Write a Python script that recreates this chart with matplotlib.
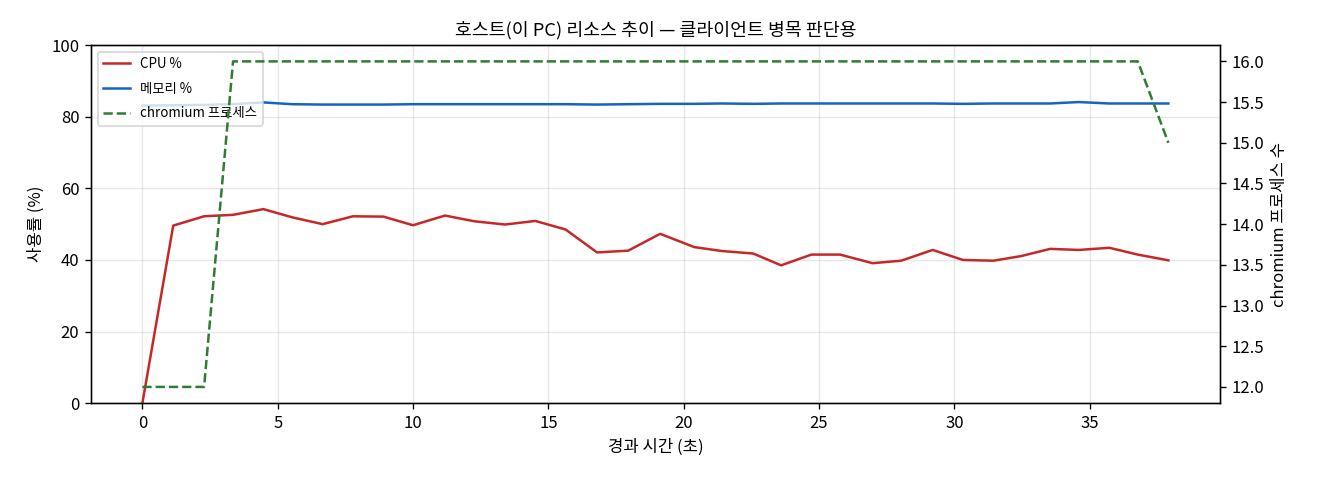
import matplotlib
matplotlib.use("Agg")
import matplotlib.pyplot as plt

plt.rcParams['font.family'] = ['Noto Sans CJK KR', 'DejaVu Sans']
plt.rcParams['axes.unicode_minus'] = False

# 경과 시간 (초)
elapsed = [0.0, 1.14, 2.28, 3.35, 4.47, 5.54, 6.66, 7.78, 8.91, 10.0,
           11.18, 12.27, 13.4, 14.52, 15.64, 16.8, 17.95, 19.13, 20.39, 21.41,
           22.57, 23.6, 24.72, 25.78, 26.98, 28.04, 29.2, 30.32, 31.45, 32.48,
           33.54, 34.6, 35.73, 36.78, 37.91]

cpu = [0.0, 49.6, 52.2, 52.6, 54.2, 51.9, 50.0, 52.2, 52.1, 49.7,
       52.4, 50.8, 49.9, 50.9, 48.5, 42.1, 42.6, 47.3, 43.6, 42.5,
       41.8, 38.5, 41.5, 41.5, 39.1, 39.8, 42.8, 40.0, 39.8, 41.1,
       43.1, 42.8, 43.4, 41.5, 39.9]

mem = [83.1, 83.2, 83.3, 83.5, 84.0, 83.5, 83.4, 83.4, 83.4, 83.5,
       83.5, 83.5, 83.5, 83.5, 83.5, 83.4, 83.5, 83.6, 83.6, 83.7,
       83.6, 83.7, 83.7, 83.7, 83.7, 83.7, 83.7, 83.6, 83.7, 83.7,
       83.7, 84.1, 83.7, 83.7, 83.7]

chromium = [12, 12, 12, 16, 16, 16, 16, 16, 16, 16,
            16, 16, 16, 16, 16, 16, 16, 16, 16, 16,
            16, 16, 16, 16, 16, 16, 16, 16, 16, 16,
            16, 16, 16, 16, 15]

fig, ax = plt.subplots(figsize=(11, 4), dpi=120)
fig.subplots_adjust(left=0.069, right=0.924, top=0.906, bottom=0.16)

l1, = ax.plot(elapsed, cpu, color='#c62828', lw=1.5, label='CPU %')
l2, = ax.plot(elapsed, mem, color='#1565c0', lw=1.5, label='메모리 %')
ax.set_ylim(0, 100)
ax.set_xlabel('경과 시간 (초)')
ax.set_ylabel('사용률 (%)')
ax.grid(True, alpha=0.3)

ax2 = ax.twinx()
l3, = ax2.plot(elapsed, chromium, color='#2e7d32', lw=1.5, ls='--',
               label='chromium 프로세스')
ax2.set_ylabel('chromium 프로세스 수')

ax.set_title('호스트(이 PC) 리소스 추이 — 클라이언트 병목 판단용', fontsize=11)
ax.legend(handles=[l1, l2, l3], loc='upper left', fontsize=8, labelspacing=0.8)

fig.savefig('out.png')
